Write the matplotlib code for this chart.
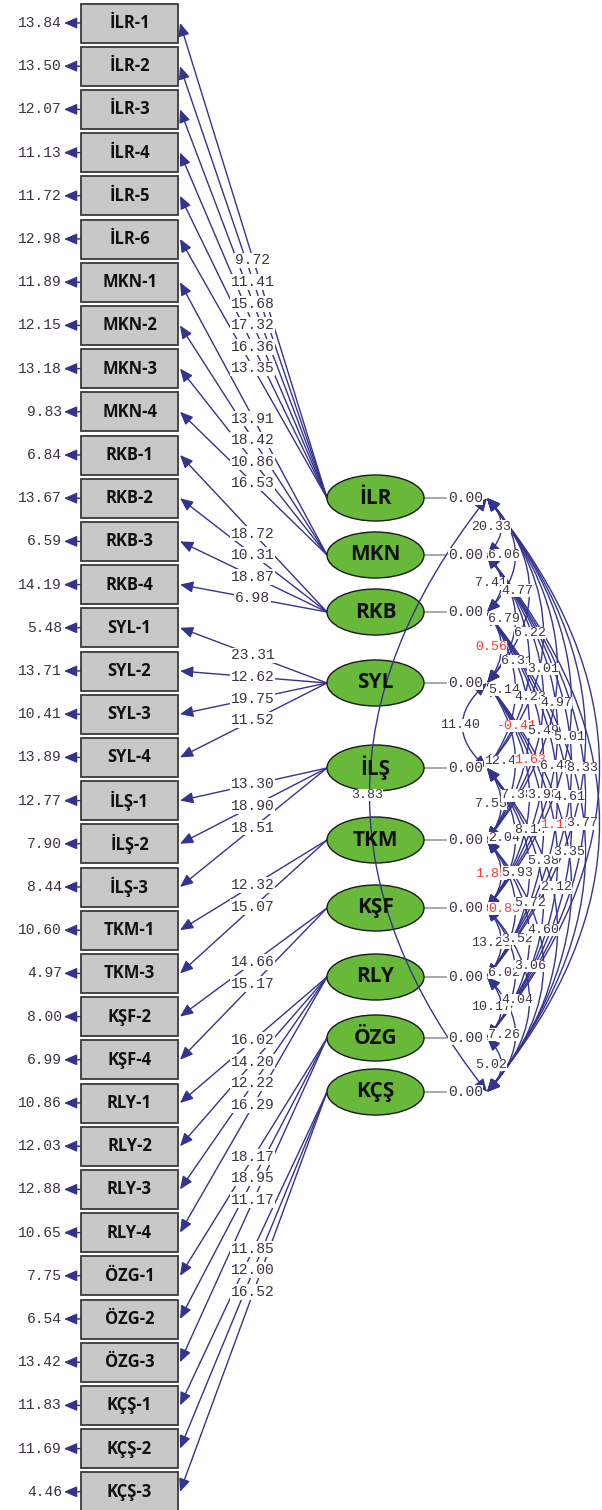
import matplotlib.pyplot as plt
from matplotlib.patches import Ellipse, Rectangle, FancyArrowPatch
from matplotlib.path import Path


indicators = [
    "İLR-1", "İLR-2", "İLR-3", "İLR-4", "İLR-5", "İLR-6",
    "MKN-1", "MKN-2", "MKN-3", "MKN-4",
    "RKB-1", "RKB-2", "RKB-3", "RKB-4",
    "SYL-1", "SYL-2", "SYL-3", "SYL-4",
    "İLŞ-1", "İLŞ-2", "İLŞ-3",
    "TKM-1", "TKM-3",
    "KŞF-2", "KŞF-4",
    "RLY-1", "RLY-2", "RLY-3", "RLY-4",
    "ÖZG-1", "ÖZG-2", "ÖZG-3",
    "KÇŞ-1", "KÇŞ-2", "KÇŞ-3",
]
error_variances = [
    13.84, 13.50, 12.07, 11.13, 11.72, 12.98,
    11.89, 12.15, 13.18, 9.83,
    6.84, 13.67, 6.59, 14.19,
    5.48, 13.71, 10.41, 13.89,
    12.77, 7.90, 8.44,
    10.60, 4.97,
    8.00, 6.99,
    10.86, 12.03, 12.88, 10.65,
    7.75, 6.54, 13.42,
    11.83, 11.69, 4.46,
]
factors = ["İLR", "MKN", "RKB", "SYL", "İLŞ", "TKM", "KŞF", "RLY", "ÖZG", "KÇŞ"]
items_per_factor = [6, 4, 4, 4, 3, 2, 2, 4, 3, 3]
loadings = [
    9.72, 11.41, 15.68, 17.32, 16.36, 13.35,
    13.91, 18.42, 10.86, 16.53,
    18.72, 10.31, 18.87, 6.98,
    23.31, 12.62, 19.75, 11.52,
    13.30, 18.90, 18.51,
    12.32, 15.07,
    14.66, 15.17,
    16.02, 14.20, 12.22, 16.29,
    18.17, 18.95, 11.17,
    11.85, 12.00, 16.52,
]
factor_variances = [0.00] * 10

cov_pairs = [
    (0, 1), (1, 2), (2, 3), (3, 4), (4, 5), (5, 6), (6, 7), (7, 8), (8, 9),
    (0, 2), (1, 3), (2, 4), (3, 5), (4, 6), (5, 7), (6, 8), (7, 9),
    (0, 3), (1, 4), (2, 5), (3, 6), (4, 7), (5, 8), (6, 9),
    (0, 4), (1, 5), (2, 6), (3, 7), (4, 8), (5, 9),
    (0, 5), (1, 6), (2, 7), (3, 8), (4, 9),
    (0, 6), (1, 7), (2, 8), (3, 9),
    (0, 7), (1, 8), (2, 9),
    (0, 8), (1, 9),
    (0, 9),
]
cov_values = [
    20.33, 7.41, 0.56, 11.40, 7.55, 1.85, 13.25, 10.17, 5.02,
    6.06, 6.79, 5.14, 12.46, 2.04, 0.83, 6.02, 7.26,
    4.77, 6.31, -0.41, 7.38, 5.93, 3.52, 4.04,
    6.22, 4.23, 1.63, 8.14, 5.72, 3.06,
    3.01, 5.49, 3.98, 5.38, 4.60,
    4.97, 6.48, 1.12, 2.12,
    5.01, 4.61, 3.35,
    8.33, 3.77,
    3.83,
]

LINE = "#34348f"
NUM = "#3d3242"
RED = "#ff3b30"
MONO = "Liberation Mono"
SANS = "Open Sans"

BOX_LEFT, BOX_RIGHT = 81, 178
BOX_TOP, BOX_STEP, BOX_H = 23, 43.2, 39
ELL_X, ELL_W, ELL_H = 375.5, 97, 46
FACTOR_Y = [498, 555, 612, 683, 768, 840, 908, 977, 1038, 1092]
ARC_X = 487
LEFT_BULGE = {(3, 4): 24, (0, 9): 117}


def arrow(ax, start, end, style="-|>", z=2):
    patch = FancyArrowPatch(
        start, end, arrowstyle=style + ",head_length=0.65,head_width=0.28",
        mutation_scale=12, color=LINE, lw=1.0, shrinkA=0, shrinkB=0, zorder=z,
    )
    ax.add_patch(patch)


def main():
    fig = plt.figure(figsize=(6.02, 15.10), dpi=100)
    ax = fig.add_axes([0, 0, 1, 1])
    ax.set_xlim(0, 602)
    ax.set_ylim(1510, 0)
    ax.axis("off")

    box_y = [BOX_TOP + i * BOX_STEP for i in range(len(indicators))]

    # observed variables with error variances
    for name, err, y in zip(indicators, error_variances, box_y):
        ax.add_patch(Rectangle((BOX_LEFT, y - BOX_H / 2), BOX_RIGHT - BOX_LEFT, BOX_H,
                               facecolor="#c8c8c8", edgecolor="#3a3a3a", lw=1.3, zorder=3))
        ax.text((BOX_LEFT + BOX_RIGHT) / 2, y, name, ha="center", va="center",
                fontsize=12, fontweight="bold", family=SANS, color="#111111", zorder=4)
        arrow(ax, (BOX_LEFT, y), (64, y))
        ax.text(62, y, f"{err:.2f}", ha="right", va="center", fontsize=10.5,
                family=MONO, color=NUM, zorder=4)

    # loadings
    idx = 0
    for k, n in enumerate(items_per_factor):
        fy = FACTOR_Y[k]
        x0 = ELL_X - ELL_W / 2
        for _ in range(n):
            y = box_y[idx]
            arrow(ax, (x0, fy), (BOX_RIGHT + 2, y))
            ax.text((x0 + BOX_RIGHT) / 2, (fy + y) / 2, f"{loadings[idx]:.2f}",
                    ha="center", va="center", fontsize=10.5, family=MONO, color=NUM,
                    zorder=5, bbox=dict(facecolor="white", edgecolor="none", pad=0.6))
            idx += 1

    # covariances between latent variables
    for (i, j), v in zip(cov_pairs, cov_values):
        y1, y2 = FACTOR_Y[i], FACTOR_Y[j]
        gap = j - i
        if (i, j) in LEFT_BULGE:
            apex = ARC_X - LEFT_BULGE[(i, j)]
            lx = apex - 3
        else:
            apex = ARC_X + 14 * gap
            lx = 478 + 13 * gap
        cx = 2 * apex - ARC_X
        path = Path([(ARC_X, y1), (cx, (y1 + y2) / 2), (ARC_X, y2)],
                    [Path.MOVETO, Path.CURVE3, Path.CURVE3])
        ax.add_patch(FancyArrowPatch(
            path=path, arrowstyle="<|-|>,head_length=0.65,head_width=0.28",
            mutation_scale=12, color=LINE, lw=1.0, zorder=6,
        ))
        ax.text(lx, (y1 + y2) / 2, f"{v:.2f}", ha="center", va="center",
                fontsize=9.5, family=MONO, color=RED if abs(v) < 1.96 else NUM,
                zorder=7, bbox=dict(facecolor="white", edgecolor="none", pad=0.1))

    # latent variables
    for name, var, fy in zip(factors, factor_variances, FACTOR_Y):
        ax.add_patch(Ellipse((ELL_X, fy), ELL_W, ELL_H, facecolor="#68b83a",
                             edgecolor="#1a1a1a", lw=1.0, zorder=5))
        ax.text(ELL_X, fy, name, ha="center", va="center", fontsize=15,
                fontweight="bold", family=SANS, color="#111111", zorder=8)
        ax.plot([ELL_X + ELL_W / 2, 446], [fy, fy], color="#9a9a9a", lw=1.2, zorder=4)
        ax.text(448, fy, f"{var:.2f}", ha="left", va="center", fontsize=10.5,
                family=MONO, color=NUM, zorder=8,
                bbox=dict(facecolor="white", edgecolor="none", pad=0.3))

    fig.savefig("out.png", dpi=100)


if __name__ == "__main__":
    main()
